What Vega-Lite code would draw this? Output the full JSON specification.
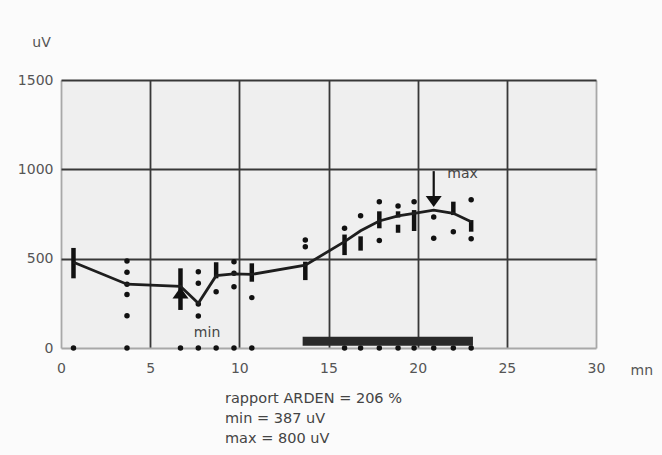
{
  "$schema": "https://vega.github.io/schema/vega-lite/v6.json",
  "width": 535,
  "height": 268,
  "autosize": {"type": "none"},
  "padding": {"left": 61, "top": 80, "right": 66, "bottom": 107},
  "background": "#fbfbfb",
  "view": {"fill": "#efefef", "stroke": null},
  "config": {"font": "DejaVu Sans"},
  "title": {
    "text": ["rapport ARDEN = 206 %", "min  = 387 uV", "max = 800 uV"],
    "orient": "bottom",
    "anchor": "start",
    "frame": "group",
    "dx": 164,
    "offset": 15,
    "fontSize": 14.5,
    "fontWeight": "normal",
    "color": "#444444",
    "lineHeight": 20,
    "font": "DejaVu Sans",
    "baseline": "top"
  },
  "datasets": {
    "dots": [
      {"t": 0.7, "v": 0},
      {"t": 3.7, "v": 487}, {"t": 3.7, "v": 424}, {"t": 3.7, "v": 357}, {"t": 3.7, "v": 300}, {"t": 3.7, "v": 181}, {"t": 3.7, "v": 0},
      {"t": 6.7, "v": 0},
      {"t": 7.7, "v": 427}, {"t": 7.7, "v": 362}, {"t": 7.7, "v": 246}, {"t": 7.7, "v": 179}, {"t": 7.7, "v": 0},
      {"t": 8.7, "v": 315}, {"t": 8.7, "v": 0},
      {"t": 9.7, "v": 483}, {"t": 9.7, "v": 418}, {"t": 9.7, "v": 343}, {"t": 9.7, "v": 0},
      {"t": 10.7, "v": 282}, {"t": 10.7, "v": 0},
      {"t": 13.7, "v": 604}, {"t": 13.7, "v": 567},
      {"t": 15.9, "v": 670}, {"t": 15.9, "v": 0},
      {"t": 16.8, "v": 740}, {"t": 16.8, "v": 0},
      {"t": 17.85, "v": 819}, {"t": 17.85, "v": 602}, {"t": 17.85, "v": 0},
      {"t": 18.9, "v": 795}, {"t": 18.9, "v": 0},
      {"t": 19.8, "v": 819}, {"t": 19.8, "v": 0},
      {"t": 20.9, "v": 733}, {"t": 20.9, "v": 614}, {"t": 20.9, "v": 0},
      {"t": 22.0, "v": 651}, {"t": 22.0, "v": 0},
      {"t": 23.0, "v": 830}, {"t": 23.0, "v": 611}, {"t": 23.0, "v": 0}
    ],
    "bars": [
      {"t": 0.7, "lo": 390, "hi": 560},
      {"t": 6.7, "lo": 213, "hi": 446},
      {"t": 8.7, "lo": 390, "hi": 480},
      {"t": 10.7, "lo": 371, "hi": 474},
      {"t": 13.7, "lo": 380, "hi": 483},
      {"t": 15.9, "lo": 520, "hi": 635},
      {"t": 16.8, "lo": 545, "hi": 625},
      {"t": 17.85, "lo": 670, "hi": 765},
      {"t": 18.9, "lo": 730, "hi": 765},
      {"t": 18.9, "lo": 645, "hi": 690},
      {"t": 19.8, "lo": 655, "hi": 772},
      {"t": 22.0, "lo": 744, "hi": 819},
      {"t": 23.0, "lo": 651, "hi": 716}
    ],
    "mean": [
      {"t": 0.7, "v": 480},
      {"t": 3.7, "v": 357},
      {"t": 6.7, "v": 345},
      {"t": 7.7, "v": 250},
      {"t": 8.7, "v": 405},
      {"t": 9.7, "v": 415},
      {"t": 10.7, "v": 412},
      {"t": 13.7, "v": 464},
      {"t": 15.9, "v": 595},
      {"t": 16.8, "v": 656},
      {"t": 17.85, "v": 711},
      {"t": 18.9, "v": 739},
      {"t": 19.8, "v": 754},
      {"t": 20.9, "v": 772},
      {"t": 22.0, "v": 754},
      {"t": 23.0, "v": 707}
    ],
    "light": [{"t0": 13.55, "t1": 23.1, "b0": 13, "b1": 63}],
    "arrowsDown": [{"t": 20.9, "v": 820, "top": 990, "bottom": 830}],
    "arrowsUp": [{"t": 6.7, "v": 308}],
    "labels": [
      {"t": 8.19, "v": 84, "label": "min"},
      {"t": 22.52, "v": 974, "label": "max"}
    ]
  },
  "layer": [
    {
      "data": {"name": "dots"},
      "mark": {"type": "point", "filled": true, "size": 30, "color": "#111111", "opacity": 1},
      "encoding": {
        "x": {
          "field": "t", "type": "quantitative",
          "scale": {"domain": [0, 30], "nice": false, "zero": false},
          "axis": {
            "values": [0, 5, 10, 15, 20, 25, 30],
            "grid": true,
            "gridColor": {"condition": {"test": "datum.value == 0 || datum.value == 30", "value": "#a8a8a8"}, "value": "#383838"},
            "gridWidth": 1.8,
            "domain": false,
            "ticks": false,
            "labelPadding": 13,
            "labelFontSize": 14,
            "labelColor": "#555555",
            "labelFlush": false,
            "title": "mn",
            "titleFontWeight": "normal",
            "titleFontSize": 14,
            "titleColor": "#555555",
            "titleX": 569,
            "titleY": 22,
            "titleAlign": "left",
            "titleBaseline": "middle"
          }
        },
        "y": {
          "field": "v", "type": "quantitative",
          "scale": {"domain": [0, 1500], "nice": false},
          "axis": {
            "values": [0, 500, 1000, 1500],
            "format": "d",
            "grid": true,
            "gridColor": {"condition": {"test": "datum.value == 0", "value": "#a8a8a8"}, "value": "#383838"},
            "gridWidth": 1.8,
            "domain": false,
            "ticks": false,
            "labelPadding": 8,
            "labelFontSize": 14,
            "labelColor": "#555555",
            "title": "uV",
            "titleFontWeight": "normal",
            "titleFontSize": 14,
            "titleColor": "#555555",
            "titleAngle": 0,
            "titleX": -20,
            "titleY": -38,
            "titleAlign": "center",
            "titleBaseline": "middle"
          }
        }
      }
    },
    {
      "data": {"name": "light"},
      "mark": {"type": "rect", "color": "#2a2a2a"},
      "encoding": {
        "x": {"field": "t0", "type": "quantitative"},
        "x2": {"field": "t1"},
        "y": {"field": "b0", "type": "quantitative"},
        "y2": {"field": "b1"}
      }
    },
    {
      "data": {"name": "bars"},
      "mark": {"type": "rule", "color": "#111111", "strokeWidth": 4.5},
      "encoding": {
        "x": {"field": "t", "type": "quantitative"},
        "y": {"field": "lo", "type": "quantitative"},
        "y2": {"field": "hi"}
      }
    },
    {
      "data": {"name": "mean"},
      "mark": {"type": "line", "color": "#1e1e1e", "strokeWidth": 2.8, "interpolate": "linear"},
      "encoding": {
        "x": {"field": "t", "type": "quantitative"},
        "y": {"field": "v", "type": "quantitative"}
      }
    },
    {
      "data": {"name": "arrowsDown"},
      "mark": {"type": "rule", "color": "#111111", "strokeWidth": 2.2},
      "encoding": {
        "x": {"field": "t", "type": "quantitative"},
        "y": {"field": "top", "type": "quantitative"},
        "y2": {"field": "bottom"}
      }
    },
    {
      "data": {"name": "arrowsDown"},
      "mark": {"type": "point", "filled": true, "opacity": 1, "color": "#111111", "size": 256, "shape": "M-1,-0.7L1,-0.7L0,0.7Z"},
      "encoding": {
        "x": {"field": "t", "type": "quantitative"},
        "y": {"field": "v", "type": "quantitative"}
      }
    },
    {
      "data": {"name": "arrowsUp"},
      "mark": {"type": "point", "filled": true, "opacity": 1, "color": "#111111", "size": 256, "shape": "M-1,0.7L1,0.7L0,-0.7Z"},
      "encoding": {
        "x": {"field": "t", "type": "quantitative"},
        "y": {"field": "v", "type": "quantitative"}
      }
    },
    {
      "data": {"name": "labels"},
      "mark": {"type": "text", "fontSize": 14, "color": "#444444", "align": "center", "baseline": "middle"},
      "encoding": {
        "x": {"field": "t", "type": "quantitative"},
        "y": {"field": "v", "type": "quantitative"},
        "text": {"field": "label"}
      }
    }
  ]
}
